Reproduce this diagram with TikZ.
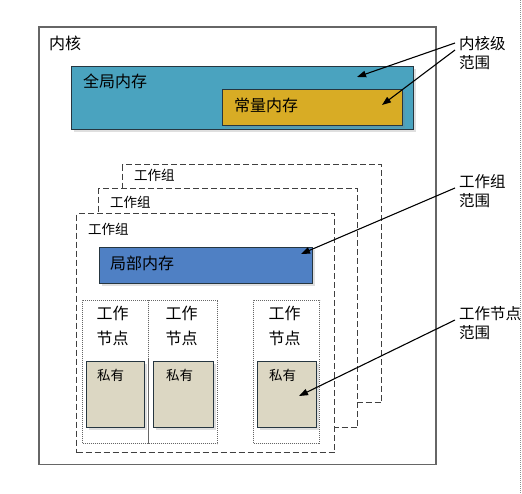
\documentclass[tikz,border=0pt]{standalone}
\usepackage{fontspec}
\setmainfont{Noto Sans CJK SC}
\usetikzlibrary{arrows.meta,shadows}
\definecolor{teal1}{HTML}{4AA3BF}
\definecolor{gold1}{HTML}{D8AC25}
\definecolor{blue1}{HTML}{4F80C4}
\definecolor{tan1}{HTML}{DCD7C3}
\definecolor{edge1}{HTML}{263640}
\tikzset{
  x=1pt,y=-1pt,
  memb/.style={draw=edge1,line width=1.4pt,anchor=north west,inner sep=0pt,
    drop shadow={shadow xshift=2pt,shadow yshift=-2pt,opacity=0.25}},
  wgbox/.style={draw=black!75,line width=1.4pt,dash pattern=on 6pt off 3pt,fill=white,anchor=north west,inner sep=0pt},
  wibox/.style={draw=black!60,line width=1pt,dash pattern=on 1pt off 1pt,anchor=north west,inner sep=0pt},
  txt/.style={anchor=west,inner sep=0pt,font=\fontsize{16}{19}\selectfont},
  stxt/.style={anchor=west,inner sep=0pt,font=\fontsize{13.5}{16}\selectfont},
  lbl/.style={anchor=north west,inner sep=0pt,align=left,font=\fontsize{15.5}{19}\selectfont},
  arr/.style={line width=1.1pt,-{Triangle[length=9pt,width=6.5pt]}},
}
\begin{document}
\begin{tikzpicture}
\useasboundingbox (0,0) rectangle (522,494);
\fill[white] (0,0) rectangle (522,494);
\draw[black!45,line width=0.6pt,dash pattern=on 1pt off 1pt] (520.5,0) -- (520.5,494);
% kernel
\node[anchor=north west,draw=black!60,line width=1.7pt,minimum width=397,minimum height=437,inner sep=0pt] (kern) at (38,26.5) {};
\node[txt] (tk) at (49,43) {内核};
% global memory
\node[memb,fill=teal1,minimum width=342,minimum height=63] (glob) at (71,66) {};
\node[txt] (tglob) at (83,81) {全局内存};
\node[memb,fill=gold1,minimum width=180,minimum height=36,drop shadow={opacity=0}] (const) at (222,89) {};
\node[txt] (tconst) at (234,105) {常量内存};
% work groups
\node[wgbox,minimum width=259,minimum height=238] (wg3) at (122,164) {};
\node[stxt] (twg3) at (134,175) {工作组};
\node[wgbox,minimum width=259,minimum height=239] (wg2) at (98,188) {};
\node[stxt] (twg2) at (110,202) {工作组};
\node[wgbox,minimum width=258,minimum height=239] (wg1) at (76,213) {};
\node[stxt] (twg1) at (88,229) {工作组};
% local memory
\node[memb,fill=blue1,minimum width=213,minimum height=36] (loc) at (99,247) {};
\node[txt] (tloc) at (110,263) {局部内存};
% work items
\node[wibox,minimum width=66,minimum height=143] (wi1) at (82,300) {};
\node[wibox,minimum width=69,minimum height=143] (wi2) at (148,300) {};
\node[wibox,minimum width=66,minimum height=143] (wi3) at (253,300) {};
\node[txt,anchor=center] (twi1a) at (112.5,313) {工作};
\node[txt,anchor=center] (twi1b) at (112.5,338) {节点};
\node[txt,anchor=center] (twi2a) at (181.5,313) {工作};
\node[txt,anchor=center] (twi2b) at (181.5,338) {节点};
\node[txt,anchor=center] (twi3a) at (284.5,313) {工作};
\node[txt,anchor=center] (twi3b) at (284.5,338) {节点};
% private memory
\node[memb,fill=tan1,line width=1.2pt,minimum width=58,minimum height=66] (p1) at (86,361) {};
\node[memb,fill=tan1,line width=1.2pt,minimum width=60,minimum height=66] (p2) at (153,361) {};
\node[memb,fill=tan1,line width=1.2pt,minimum width=59,minimum height=66] (p3) at (257,361) {};
\node[stxt] (tp1) at (97,375) {私有};
\node[stxt] (tp2) at (166,375) {私有};
\node[stxt] (tp3) at (269,375) {私有};
% labels
\node[lbl] (lk) at (459,36) {内核级\\范围};
\node[lbl] (lwg) at (459,174) {工作组\\范围};
\node[lbl] (lwi) at (459,306) {工作节点\\范围};
% arrows
\coordinate (s1) at (455,43);
\coordinate (s2) at (455,50);
\coordinate (s3) at (455,188);
\coordinate (s4) at (455,320);
\coordinate (e1) at (357,77);
\coordinate (e2) at (382,105);
\coordinate (e3) at (301,254);
\coordinate (e4) at (299,396);
\draw[arr] (s1) -- (e1);
\draw[arr] (s2) -- (e2);
\draw[arr] (s3) -- (e3);
\draw[arr] (s4) -- (e4);
\end{tikzpicture}
\end{document}
